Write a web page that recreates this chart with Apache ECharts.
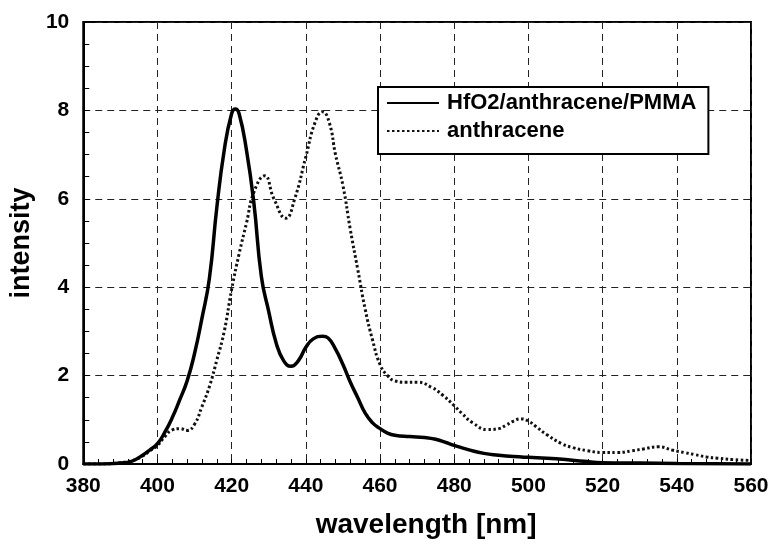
<!DOCTYPE html>
<html>
<head>
<meta charset="utf-8">
<script src="https://cdn.jsdelivr.net/npm/echarts@6/dist/echarts.min.js"></script>
<style>
html,body{margin:0;padding:0;background:#fff;}
#chart{width:772px;height:544px;}
</style>
</head>
<body>
<div id="chart"></div>
<script>
// Data
var seriesNames = ['HfO2/anthracene/PMMA', 'anthracene'];
var xTickLabels = [380, 400, 420, 440, 460, 480, 500, 520, 540, 560];
var yTickLabels = [0, 2, 4, 6, 8, 10];

var hfoWavelength = [380, 385, 390, 393, 396, 398, 400, 402, 404, 406, 408, 410, 412, 414, 416, 418, 420, 421, 422, 424, 426, 428, 430, 432, 434, 436, 438, 440, 442, 444.5, 446, 448, 450, 452, 454, 456, 458, 460, 462, 464, 468, 472, 475, 478, 480, 484, 488, 492, 496, 500, 505, 510, 515, 520, 530, 540, 560];
var hfoIntensity = [0.0, 0.0, 0.02, 0.06, 0.2, 0.32, 0.46, 0.72, 1.05, 1.45, 1.88, 2.5, 3.3, 4.2, 5.8, 7.1, 7.93, 8.03, 7.93, 7.1, 5.9, 4.25, 3.45, 2.74, 2.34, 2.21, 2.34, 2.64, 2.83, 2.89, 2.85, 2.6, 2.25, 1.85, 1.5, 1.15, 0.93, 0.8, 0.7, 0.65, 0.62, 0.6, 0.56, 0.48, 0.42, 0.32, 0.24, 0.2, 0.17, 0.15, 0.13, 0.1, 0.06, 0.03, 0.02, 0.01, 0.0];

var anthWavelength = [380, 385, 390, 393, 396, 398, 400, 402, 404, 406, 408, 410, 412, 414, 416, 418, 420, 422, 424, 426, 428.9, 431.4, 434.6, 437, 440, 442.5, 444.5, 446.3, 448, 450, 452, 454, 456, 458, 460, 462, 464, 467, 470, 474, 477, 480, 482, 485, 489, 492, 494, 496, 498, 500, 502, 505, 509, 512, 516, 520, 524, 528, 531, 535, 539, 542, 545, 548, 551, 555, 560];
var anthIntensity = [0.0, 0.0, 0.03, 0.07, 0.18, 0.3, 0.42, 0.62, 0.77, 0.8, 0.76, 0.9, 1.3, 1.75, 2.35, 3.0, 3.95, 4.75, 5.45, 6.15, 6.52, 6.0, 5.56, 6.0, 6.95, 7.73, 7.97, 7.73, 7.0, 6.3, 5.3, 4.4, 3.5, 2.8, 2.25, 2.0, 1.88, 1.85, 1.85, 1.73, 1.55, 1.32, 1.15, 0.93, 0.78, 0.8, 0.88, 0.97, 1.02, 0.97, 0.85, 0.66, 0.46, 0.37, 0.3, 0.26, 0.26, 0.3, 0.34, 0.39, 0.31, 0.26, 0.21, 0.16, 0.13, 0.1, 0.08];

function pairs(xs, ys) {
  var out = [];
  for (var i = 0; i < xs.length; i++) out.push([xs[i], ys[i]]);
  return out;
}

var FONT = '"Liberation Sans", Arial, Helvetica, sans-serif';
var chart = echarts.init(document.getElementById('chart'), null, {renderer: 'canvas'});
var option = {
  animation: false,
  backgroundColor: '#fff',
  grid: {left: 79, right: 21, top: 22, bottom: 75, show: true, borderColor: '#000', borderWidth: 2, backgroundColor: 'transparent'},
  legend: {
    orient: 'vertical',
    left: 378, top: 87,
    padding: [5, 12, 12, 8],
    itemWidth: 52, itemHeight: 14, itemGap: 6,
    borderColor: '#000', borderWidth: 2, backgroundColor: '#fff',
    itemStyle: {opacity: 0},
    textStyle: {fontFamily: FONT, fontSize: 22, fontWeight: 'bold', color: '#000', padding: [0, 0, 0, 3]},
    data: seriesNames
  },
  xAxis: {
    type: 'value', min: xTickLabels[0], max: xTickLabels[xTickLabels.length - 1], interval: 20,
    name: 'wavelength [nm]', nameLocation: 'middle', nameGap: 47,
    nameTextStyle: {fontFamily: FONT, fontSize: 28, fontWeight: 'bold', color: '#000', padding: [0, 0, 0, 18]},
    axisLine: {show: true, lineStyle: {color: '#000', width: 2}},
    axisTick: {show: true, inside: true, length: 5, lineStyle: {color: '#000', width: 1}},
    minorTick: {show: true, splitNumber: 5, length: 5, lineStyle: {color: '#000', width: 1}},
    axisLabel: {fontFamily: FONT, fontSize: 21, fontWeight: 'bold', color: '#000', margin: 12},
    splitLine: {show: true, lineStyle: {color: '#222', width: 1, type: [7, 5]}}
  },
  yAxis: {
    type: 'value', min: 0, max: 10, interval: 2,
    name: 'intensity', nameLocation: 'middle', nameGap: 40,
    nameTextStyle: {fontFamily: FONT, fontSize: 27, fontWeight: 'bold', color: '#000'},
    axisLine: {show: true, lineStyle: {color: '#000', width: 2}},
    axisTick: {show: true, inside: true, length: 6, lineStyle: {color: '#000', width: 1}},
    minorTick: {show: true, splitNumber: 4, length: 6, lineStyle: {color: '#000', width: 1}},
    axisLabel: {fontFamily: FONT, fontSize: 21, fontWeight: 'bold', color: '#000', margin: 14,
      formatter: function (v) { return yTickLabels.indexOf(v) >= 0 ? String(v) : ''; }},
    splitLine: {show: true, lineStyle: {color: '#222', width: 1, type: [7, 5]}}
  },
  series: [
    {
      name: seriesNames[0], type: 'line', data: pairs(hfoWavelength, hfoIntensity),
      smooth: 0.5, symbol: 'none', z: 3,
      lineStyle: {color: '#000', width: 3.5, type: 'solid'},
      itemStyle: {color: '#000'}
    },
    {
      name: seriesNames[1], type: 'line', data: pairs(anthWavelength, anthIntensity),
      smooth: 0.5, symbol: 'none', z: 2,
      lineStyle: {color: '#111', width: 3, type: [2.5, 2.5]},
      itemStyle: {color: '#111'}
    }
  ]
};
chart.setOption(option);
</script>
</body>
</html>
